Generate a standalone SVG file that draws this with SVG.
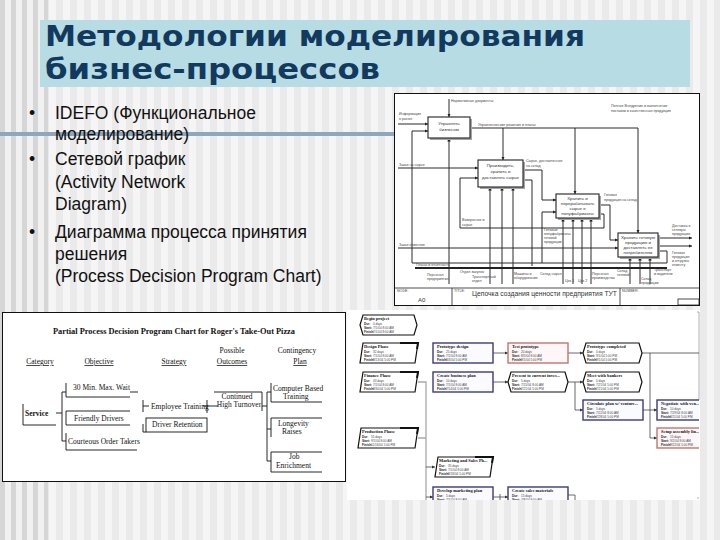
<svg xmlns="http://www.w3.org/2000/svg" width="720" height="540" viewBox="0 0 720 540">
<defs>
<pattern id="stripes" width="14" height="10" patternUnits="userSpaceOnUse"><rect width="14" height="10" fill="#f5f5f5"/><rect width="7" height="10" fill="#eaeaea"/></pattern>
<pattern id="stripesL" width="11" height="10" patternUnits="userSpaceOnUse"><rect width="11" height="10" fill="#f1f1f1"/><rect width="5" height="10" fill="#d6d6d6"/></pattern>
<marker id="ar" viewBox="0 0 6 6" refX="6" refY="3" markerWidth="3.5" markerHeight="3.5" orient="auto"><path d="M0,0 L6,3 L0,6 z" fill="#222"/></marker>
<marker id="arN" viewBox="0 0 6 6" refX="6" refY="3" markerWidth="4" markerHeight="4" orient="auto"><path d="M0,0 L6,3 L0,6 z" fill="#333"/></marker>
<clipPath id="netClip"><rect x="347" y="310" width="352" height="190"/></clipPath>
</defs>
<style>
.title{font-family:"DejaVu Sans",sans-serif;font-weight:bold;font-size:29px;fill:#123a5e}
.bul{font-family:"Liberation Sans",Arial,sans-serif;font-size:17.5px;fill:#111}
.ln{fill:none;stroke:#2a2a2a;stroke-width:1}
.lnA{fill:none;stroke:#2a2a2a;stroke-width:1;marker-end:url(#ar)}
.box{fill:#fff;stroke:#222;stroke-width:1.1}
.shd{fill:#a5a5a5}
.it{font-family:"Liberation Sans",Arial,sans-serif;font-size:4.4px;fill:#333}
.il{font-family:"Liberation Sans",Arial,sans-serif;font-size:3.6px;fill:#444}
.pd{font-family:"Liberation Serif","Times New Roman",serif;font-size:7.5px;fill:#111}
.pdu{font-family:"Liberation Serif","Times New Roman",serif;font-size:7.5px;fill:#111;text-decoration:underline}
.pl{fill:none;stroke:#111;stroke-width:0.9}
.nb{fill:#fbfbff;stroke:#3b3b7a;stroke-width:1.4}
.nr{fill:#fff7f7;stroke:#c27474;stroke-width:1.4}
.nk{fill:#fff;stroke:#111;stroke-width:1.2}
.nt{font-family:"Liberation Serif",serif;font-size:4.4px;font-weight:bold;fill:#111}
.nf{font-family:"Liberation Sans",sans-serif;font-size:3.1px;font-weight:bold;fill:#222}
.nv{font-family:"Liberation Sans",sans-serif;font-size:3.1px;fill:#444}
.nc{fill:none;stroke:#444;stroke-width:0.8}
.ncA{fill:none;stroke:#444;stroke-width:0.8;marker-end:url(#arN)}
.gray{fill:none;stroke:#a8a8a8;stroke-width:1.3}
</style>

<!-- background -->
<rect width="720" height="540" fill="url(#stripes)"/>
<rect x="0" y="0" width="48" height="540" fill="url(#stripesL)"/>

<!-- title -->
<g id="title">
<rect x="40" y="20" width="650" height="67" fill="#b7dce3"/>
<text class="title" x="45" y="46" textLength="540" lengthAdjust="spacingAndGlyphs">Методологии моделирования</text>
<text class="title" x="45" y="79" textLength="335" lengthAdjust="spacingAndGlyphs">бизнес-процессов</text>
</g>

<!-- divider line -->
<rect x="0" y="132" width="396" height="4" fill="#8ea7bc"/>

<!-- bullets -->
<g id="bullets">
<text class="bul" x="29" y="119">•</text>
<text class="bul" x="55" y="119">IDEFO (Функциональное</text>
<text class="bul" x="55" y="140">моделирование)</text>
<text class="bul" x="29" y="165">•</text>
<text class="bul" x="55" y="165">Сетевой график</text>
<text class="bul" x="55" y="188">(Activity Network</text>
<text class="bul" x="55" y="210">Diagram)</text>
<text class="bul" x="29" y="238">•</text>
<text class="bul" x="55" y="238">Диаграмма процесса принятия</text>
<text class="bul" x="55" y="260">решения</text>
<text class="bul" x="55" y="282">(Process Decision Program Chart)</text>
</g>

<!-- IDEF0 picture -->
<g id="idef0">
<rect x="394.5" y="93.5" width="305" height="212" fill="#fff" stroke="#111" stroke-width="1"/>
<g id="idef0-connectors">
<path class="lnA" d="M449,99 V117"/>
<path class="lnA" d="M398,124 H428"/>
<path class="ln" d="M470,128 H638"/>
<path class="lnA" d="M503,128 V160"/>
<path class="lnA" d="M575,128 V194"/>
<path class="lnA" d="M638,128 V233"/>
<path class="lnA" d="M449,284 V138"/>
<path class="lnA" d="M667,263 H412 V131 H428"/>
<path class="lnA" d="M398,168 H478"/>
<path class="lnA" d="M523,170 H542 V200 H556"/>
<path class="ln" d="M523,180 H532 V266"/>
<path class="lnA" d="M599,214 H604 V228 H460 V178 H478"/>
<path class="lnA" d="M490,284 V187"/>
<path class="lnA" d="M502,284 V187"/>
<path class="lnA" d="M513,284 V187"/>
<path class="lnA" d="M599,205 H610 V240 H618"/>
<path class="lnA" d="M658,251 H667 V263 M542,263 V212 H556"/>
<path class="lnA" d="M563,284 V218"/>
<path class="lnA" d="M573,284 V218"/>
<path class="lnA" d="M582,284 V218"/>
<path class="lnA" d="M591,284 V218"/>
<path class="lnA" d="M658,238 H692"/>
<path class="lnA" d="M398,248 H618"/>
<path class="lnA" d="M658,246 H692"/>
<path class="lnA" d="M630,284 V257"/>
<path class="lnA" d="M640,284 V257"/>
<path class="lnA" d="M650,284 V257"/>
<path d="M415,268 H667" stroke="#222" stroke-width="2" fill="none"/>
</g>
<g id="idef-box1">
<rect class="shd" x="430" y="119" width="42" height="21"/>
<rect class="box" x="428" y="117" width="42" height="21"/>
<text class="it" x="449" y="125" text-anchor="middle">Управлять</text>
<text class="it" x="449" y="131" text-anchor="middle">бизнесом</text>
</g>
<g id="idef-box2">
<rect class="shd" x="480" y="162" width="45" height="27"/>
<rect class="box" x="478" y="160" width="45" height="27"/>
<text class="it" x="500.5" y="167" text-anchor="middle">Производить,</text>
<text class="it" x="500.5" y="173" text-anchor="middle">хранить и</text>
<text class="it" x="500.5" y="179" text-anchor="middle">доставлять сырье</text>
</g>
<g id="idef-box3">
<rect class="shd" x="558" y="196" width="43" height="24"/>
<rect class="box" x="556" y="194" width="43" height="24"/>
<text class="it" x="577.5" y="199.5" text-anchor="middle">Хранить и</text>
<text class="it" x="577.5" y="204.5" text-anchor="middle">перерабатывать</text>
<text class="it" x="577.5" y="209.5" text-anchor="middle">сырье в</text>
<text class="it" x="577.5" y="214.5" text-anchor="middle">полуфабрикаты</text>
</g>
<g id="idef-box4">
<rect class="shd" x="620" y="235" width="40" height="24"/>
<rect class="box" x="618" y="233" width="40" height="24"/>
<text class="it" x="638" y="238.5" text-anchor="middle">Хранить готовую</text>
<text class="it" x="638" y="243.5" text-anchor="middle">продукцию и</text>
<text class="it" x="638" y="248.5" text-anchor="middle">доставлять ее</text>
<text class="it" x="638" y="253.5" text-anchor="middle">потребителям</text>
</g>
<g id="idef-labels">
<text class="il" x="451" y="102">Нормативные документы</text>
<text class="il" x="399" y="115">Информация</text>
<text class="il" x="399" y="119.5">о рынке</text>
<text class="il" x="478" y="125.5">Управленческие решения и планы</text>
<text class="il" x="611" y="107">Полное Внедрение и выполнение</text>
<text class="il" x="611" y="112">поставки и качественная продукция</text>
<text class="il" x="399" y="166">Заказ на сырье</text>
<text class="il" x="526" y="162">Сырье, доставленное</text>
<text class="il" x="526" y="167">на склад</text>
<text class="il" x="604" y="196">Готовая</text>
<text class="il" x="604" y="201">продукция на склад</text>
<text class="il" x="462" y="221">Возвратное и</text>
<text class="il" x="462" y="226">сырье</text>
<text class="il" x="544" y="231">Готовые</text>
<text class="il" x="544" y="235">полуфабрикаты</text>
<text class="il" x="544" y="239">готовой</text>
<text class="il" x="544" y="243">продукции</text>
<text class="il" x="399" y="246">Заказ клиентов</text>
<text class="il" x="416" y="265.5">Планы и отчетность</text>
<text class="il" x="672" y="227">Доставка в</text>
<text class="il" x="672" y="231">сетевую</text>
<text class="il" x="672" y="235">продукцию</text>
<text class="il" x="672" y="254">Готовая</text>
<text class="il" x="672" y="258">продукция</text>
<text class="il" x="672" y="262">и отгрузка</text>
<text class="il" x="672" y="266">клиенту</text>
<text class="il" x="427" y="276">Персонал</text>
<text class="il" x="427" y="280">предприятия</text>
<text class="il" x="460" y="273">Отдел закупок</text>
<text class="il" x="472" y="278">Транспортный</text>
<text class="il" x="472" y="282">отдел</text>
<text class="il" x="514" y="275">Машины и</text>
<text class="il" x="514" y="279">оборудование</text>
<text class="il" x="540" y="275">Склад сырья</text>
<text class="il" x="565" y="282">Цех 1</text>
<text class="il" x="578" y="282">Цех 2</text>
<text class="il" x="592" y="275">Персонал</text>
<text class="il" x="592" y="279">производства</text>
<text class="il" x="617" y="272">Склад</text>
<text class="il" x="617" y="276">готовой</text>
<text class="il" x="641" y="280">Склад</text>
<text class="il" x="641" y="284">продукции</text>
<text class="il" x="654" y="271">Транспорт</text>
<text class="il" x="654" y="275">и водители</text>
</g>
<g id="idef-titleblock">
<path d="M395,288 H699 M452,288 V305 M620,288 V305" stroke="#222" stroke-width="0.8" fill="none"/>
<rect x="678" y="299" width="21" height="6" fill="none" stroke="#222" stroke-width="0.8"/>
<text class="il" x="397" y="292">NODE:</text>
<text class="il" x="454" y="292">TITLE:</text>
<text class="il" x="622" y="292">NUMBER:</text>
<text x="418" y="302" font-family="Liberation Sans,sans-serif" font-size="6" fill="#333">A0</text>
<text x="472" y="296" font-family="Liberation Sans,sans-serif" font-size="6.5" fill="#333" textLength="145" lengthAdjust="spacingAndGlyphs">Цепочка создания ценности предприятия ТУТ</text>
</g>
</g>

<!-- PDPC picture -->
<g id="pdpc">
<rect x="2.5" y="312.5" width="343" height="169" fill="#fff" stroke="#111" stroke-width="1"/>
<text class="pd" x="174" y="334" text-anchor="middle" font-weight="bold" textLength="242" lengthAdjust="spacingAndGlyphs">Partial Process Decision Program Chart for Roger's Take-Out Pizza</text>
<g id="pdpc-headers">
<text class="pdu" x="40" y="364" text-anchor="middle">Category</text>
<text class="pdu" x="99" y="364" text-anchor="middle">Objective</text>
<text class="pdu" x="174" y="364" text-anchor="middle">Strategy</text>
<text class="pd" x="232" y="353" text-anchor="middle">Possible</text>
<text class="pdu" x="232" y="364" text-anchor="middle">Outcomes</text>
<text class="pd" x="297" y="353" text-anchor="middle">Contingency</text>
<text class="pdu" x="300" y="364" text-anchor="middle">Plan</text>
</g>
<g id="pdpc-connectors">
<path class="pl" d="M56,413 H62 M62,392 V441 M62,392 H66 M62,441 H66"/>
<path class="pl" d="M130,392 H138 M143,400 V412 M143,406 H149"/>
<path class="pl" d="M143,424 V432 H146"/>
<path class="pl" d="M207,400 V413 M203,406 H218"/>
<path class="pl" d="M262,392 V411 M262,406 H267 M267,392 V461 M267,392 H271 M267,429 H271 M267,461 H271"/>
</g>
<g id="pdpc-service"><path class="pl" d="M23,404 V425 H56"/><text class="pd" x="25" y="416" font-weight="bold">Service</text></g>
<g id="pdpc-obj1"><path class="pl" d="M66,383 V397 H130"/><text class="pd" x="73" y="390">30 Min. Max. Wait</text></g>
<g id="pdpc-obj2"><path class="pl" d="M130,411 H66 V425 H130"/><text class="pd" x="74" y="421">Friendly Drivers</text></g>
<g id="pdpc-obj3"><path class="pl" d="M66,433 V450 H137"/><text class="pd" x="68" y="444">Courteous Order Takers</text></g>
<g id="pdpc-str1"><text class="pd" x="151" y="409">Employee Training</text></g>
<g id="pdpc-str2"><rect x="146" y="418" width="61" height="14" fill="none" stroke="#111" stroke-width="0.9"/><text class="pd" x="152" y="427">Driver Retention</text></g>
<g id="pdpc-out"><path class="pl" d="M214,392 H262"/><text class="pd" x="237" y="399" text-anchor="middle">Continued</text><text class="pd" x="239" y="407" text-anchor="middle">High Turnover</text></g>
<g id="pdpc-c1"><path class="pl" d="M271,383 V402 H322"/><text class="pd" x="273" y="391">Computer Based</text><text class="pd" x="283" y="399">Training</text></g>
<g id="pdpc-c2"><path class="pl" d="M322,418 H271 V437"/><text class="pd" x="278" y="426">Longevity</text><text class="pd" x="282" y="434">Raises</text></g>
<g id="pdpc-c3"><path class="pl" d="M322,452 H271 V472 H322"/><text class="pd" x="289" y="459">Job</text><text class="pd" x="276" y="468">Enrichment</text></g>
</g>

<!-- network diagram picture -->
<g id="network">
<rect x="347" y="310" width="353" height="190" fill="#fff"/>
<path d="M699,312 V400 M697,312 H699 M697,498 H699" stroke="#b0b0b0" stroke-width="1" fill="none"/>
<g clip-path="url(#netClip)">
<g id="net-connectors">
<path class="gray" d="M418,382 H426 V502 M418,438 H426"/>
<path class="ncA" d="M426,467 H435"/>
<path class="ncA" d="M426,497 H433"/>
<path class="ncA" d="M493,353 H508"/>
<path class="ncA" d="M568,353 H583"/>
<path class="nc" d="M642,353 H705"/>
<path class="ncA" d="M650,353 V438 H657"/>
<path class="ncA" d="M493,382 H508"/>
<path class="ncA" d="M568,382 H583"/>
<path class="ncA" d="M575,382 V410 H583"/>
<path class="ncA" d="M643,410 H657"/>
<path class="ncA" d="M493,497 H508"/>
<path class="nc" d="M500,494 V502 M568,495 H575 V502"/>
</g>
<g id="n-begin"><path class="nk" d="M363,315 H414 L417,325 L414,335 H363 L360,325 Z"/><text class="nt" x="364" y="320">Begin project</text><text class="nf" x="364" y="325">Dur:</text><text class="nv" x="373" y="325">0 days</text><text class="nf" x="364" y="329">Start:</text><text class="nv" x="373" y="329">7/1/04 8:00 AM</text><text class="nf" x="364" y="333">Finish:</text><text class="nv" x="373" y="333">7/1/04 8:00 AM</text></g>
<g id="n-design"><path class="nk" d="M363,343 H418 L415,363 H360 Z"/><path d="M400,343 H418 L417,349" stroke="#111" stroke-width="2" fill="none"/><text class="nt" x="364" y="348">Design Phase</text><text class="nf" x="364" y="353">Dur:</text><text class="nv" x="373" y="353">32 days</text><text class="nf" x="364" y="357">Start:</text><text class="nv" x="373" y="357">7/1/04 8:00 AM</text><text class="nf" x="364" y="361">Finish:</text><text class="nv" x="373" y="361">8/13/04 5:00 PM</text></g>
<g id="n-finance"><path class="nk" d="M363,372 H418 L415,392 H360 Z"/><path d="M400,372 H418 L417,378" stroke="#111" stroke-width="2" fill="none"/><text class="nt" x="364" y="377">Finance Phase</text><text class="nf" x="364" y="382">Dur:</text><text class="nv" x="373" y="382">43 days</text><text class="nf" x="364" y="386">Start:</text><text class="nv" x="373" y="386">7/1/04 8:00 AM</text><text class="nf" x="364" y="390">Finish:</text><text class="nv" x="373" y="390">8/30/04 5:00 PM</text></g>
<g id="n-production"><path class="nk" d="M361,428 H418 L415,448 H358 Z"/><path d="M400,428 H418 L417,434" stroke="#111" stroke-width="2" fill="none"/><text class="nt" x="362" y="433">Production Phase</text><text class="nf" x="362" y="438">Dur:</text><text class="nv" x="371" y="438">55 days</text><text class="nf" x="362" y="442">Start:</text><text class="nv" x="371" y="442">9/1/04 8:00 AM</text><text class="nf" x="362" y="446">Finish:</text><text class="nv" x="371" y="446">11/16/04 5:00 PM</text></g>
<g id="n-protodesign"><rect class="nb" x="433" y="343" width="60" height="20"/><text class="nt" x="437" y="348">Prototype design</text><text class="nf" x="437" y="353">Dur:</text><text class="nv" x="446" y="353">25 days</text><text class="nf" x="437" y="357">Start:</text><text class="nv" x="446" y="357">7/1/04 8:00 AM</text><text class="nf" x="437" y="361">Finish:</text><text class="nv" x="446" y="361">8/4/04 5:00 PM</text></g>
<g id="n-testproto"><rect class="nr" x="508" y="343" width="60" height="20"/><text class="nt" x="512" y="348">Test prototype</text><text class="nf" x="512" y="353">Dur:</text><text class="nv" x="521" y="353">20 days</text><text class="nf" x="512" y="357">Start:</text><text class="nv" x="521" y="357">8/5/04 8:00 AM</text><text class="nf" x="512" y="361">Finish:</text><text class="nv" x="521" y="361">9/1/04 5:00 PM</text></g>
<g id="n-protocomp"><path class="nk" d="M586,343 H639 L642,353 L639,363 H586 L583,353 Z"/><text class="nt" x="587" y="348">Prototype completed</text><text class="nf" x="587" y="353">Dur:</text><text class="nv" x="596" y="353">0 days</text><text class="nf" x="587" y="357">Start:</text><text class="nv" x="596" y="357">9/1/04 5:00 PM</text><text class="nf" x="587" y="361">Finish:</text><text class="nv" x="596" y="361">9/1/04 5:00 PM</text></g>
<g id="n-bizplan"><rect class="nb" x="433" y="372" width="60" height="20"/><text class="nt" x="437" y="377">Create business plan</text><text class="nf" x="437" y="382">Dur:</text><text class="nv" x="446" y="382">10 days</text><text class="nf" x="437" y="386">Start:</text><text class="nv" x="446" y="386">7/1/04 8:00 AM</text><text class="nf" x="437" y="390">Finish:</text><text class="nv" x="446" y="390">7/14/04 5:00 PM</text></g>
<g id="n-present"><path class="nk" d="M511,372 H565 L568,382 L565,392 H511 L508,382 Z"/><text class="nt" x="512" y="377">Present to current inves...</text><text class="nf" x="512" y="382">Dur:</text><text class="nv" x="521" y="382">5 days</text><text class="nf" x="512" y="386">Start:</text><text class="nv" x="521" y="386">7/15/04 8:00 AM</text><text class="nf" x="512" y="390">Finish:</text><text class="nv" x="521" y="390">7/21/04 5:00 PM</text></g>
<g id="n-bankers"><path class="nk" d="M586,372 H639 L642,382 L639,392 H586 L583,382 Z"/><text class="nt" x="587" y="377">Meet with bankers</text><text class="nf" x="587" y="382">Dur:</text><text class="nv" x="596" y="382">0 days</text><text class="nf" x="587" y="386">Start:</text><text class="nv" x="596" y="386">7/21/04 5:00 PM</text><text class="nf" x="587" y="390">Finish:</text><text class="nv" x="596" y="390">7/21/04 5:00 PM</text></g>
<g id="n-circulate"><rect class="nb" x="583" y="400" width="60" height="20"/><text class="nt" x="587" y="405">Circulate plan w/ venture...</text><text class="nf" x="587" y="410">Dur:</text><text class="nv" x="596" y="410">5 days</text><text class="nf" x="587" y="414">Start:</text><text class="nv" x="596" y="414">7/22/04 8:00 AM</text><text class="nf" x="587" y="418">Finish:</text><text class="nv" x="596" y="418">7/28/04 5:00 PM</text></g>
<g id="n-negotiate"><rect class="nb" x="657" y="400" width="60" height="20"/><text class="nt" x="661" y="405">Negotiate with ven...</text><text class="nf" x="661" y="410">Dur:</text><text class="nv" x="670" y="410">10 days</text><text class="nf" x="661" y="414">Start:</text><text class="nv" x="670" y="414">7/29/04 8:00 AM</text><text class="nf" x="661" y="418">Finish:</text><text class="nv" x="670" y="418">8/11/04 5:00 PM</text></g>
<g id="n-setup"><rect class="nr" x="657" y="428" width="60" height="20"/><text class="nt" x="661" y="433">Setup assembly lin...</text><text class="nf" x="661" y="438">Dur:</text><text class="nv" x="670" y="438">15 days</text><text class="nf" x="661" y="442">Start:</text><text class="nv" x="670" y="442">9/2/04 8:00 AM</text><text class="nf" x="661" y="446">Finish:</text><text class="nv" x="670" y="446">9/22/04 5:00 PM</text></g>
<g id="n-marketing"><path class="nk" d="M438,457 H493 L490,477 H435 Z"/><path d="M475,457 H493 L492,463" stroke="#111" stroke-width="2" fill="none"/><text class="nt" x="439" y="462">Marketing and Sales Ph...</text><text class="nf" x="439" y="467">Dur:</text><text class="nv" x="448" y="467">35 days</text><text class="nf" x="439" y="471">Start:</text><text class="nv" x="448" y="471">7/1/04 8:00 AM</text><text class="nf" x="439" y="475">Finish:</text><text class="nv" x="448" y="475">8/18/04 5:00 PM</text></g>
<g id="n-devmkt"><rect class="nb" x="433" y="487" width="60" height="20"/><text class="nt" x="437" y="492">Develop marketing plan</text><text class="nf" x="437" y="497">Dur:</text><text class="nv" x="446" y="497">5 days</text><text class="nf" x="437" y="501">Start:</text><text class="nv" x="446" y="501">7/1/04 8:00 AM</text></g>
<g id="n-sales"><rect class="nb" x="508" y="487" width="60" height="20"/><text class="nt" x="512" y="492">Create sales materials</text><text class="nf" x="512" y="497">Dur:</text><text class="nv" x="521" y="497">15 days</text><text class="nf" x="512" y="501">Start:</text><text class="nv" x="521" y="501">7/8/04 8:00 AM</text></g>
</g>
</g>
</svg>
